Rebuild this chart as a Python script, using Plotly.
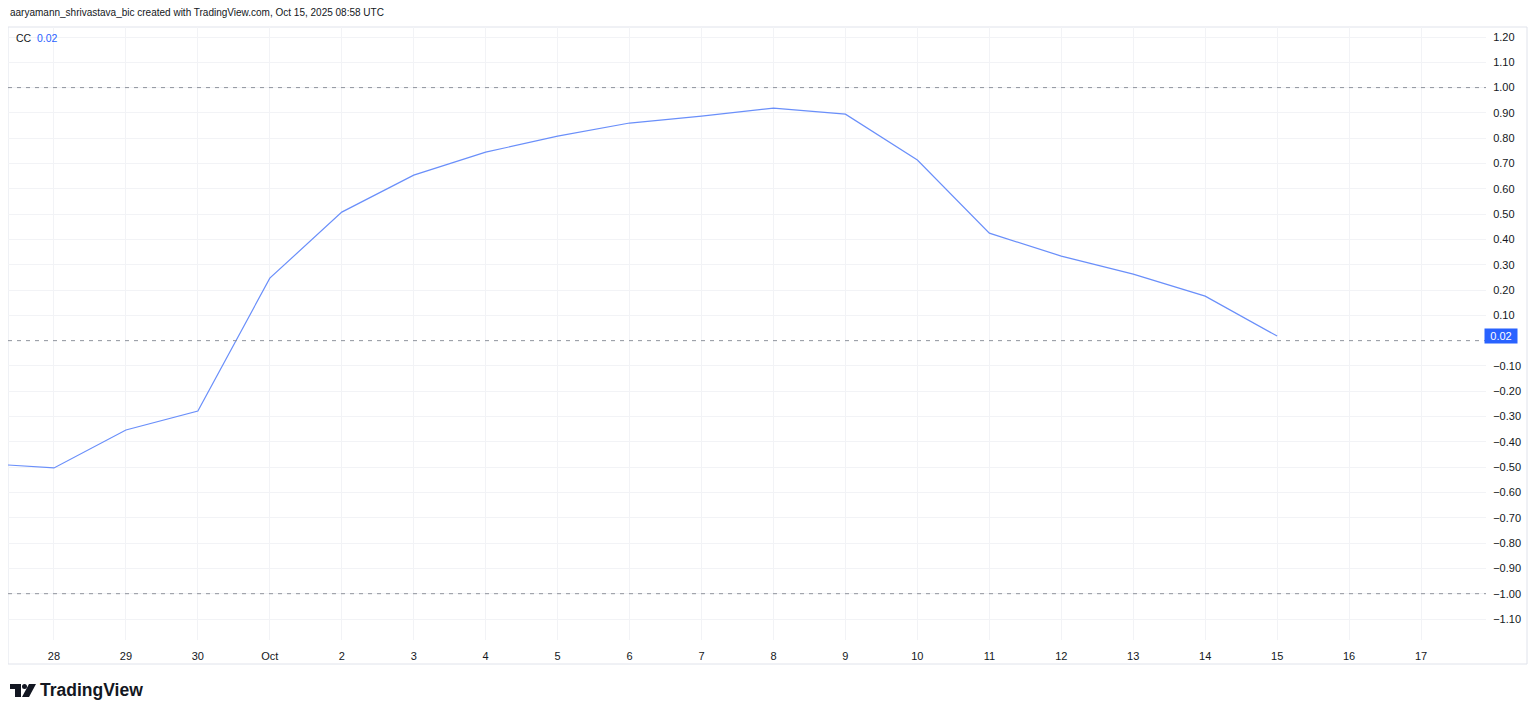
import plotly.graph_objects as go

dates = ["2025-09-27", "2025-09-28", "2025-09-29", "2025-09-30", "2025-10-01", "2025-10-02",
         "2025-10-03", "2025-10-04", "2025-10-05", "2025-10-06", "2025-10-07", "2025-10-08",
         "2025-10-09", "2025-10-10", "2025-10-11", "2025-10-12", "2025-10-13", "2025-10-14",
         "2025-10-15"]
cc = [-0.485, -0.503, -0.353, -0.278, 0.247, 0.508, 0.654, 0.745, 0.808, 0.860, 0.887, 0.919,
      0.895, 0.714, 0.425, 0.334, 0.263, 0.176, 0.018]

tick_dates = ["2025-09-28", "2025-09-29", "2025-09-30", "2025-10-01", "2025-10-02", "2025-10-03",
              "2025-10-04", "2025-10-05", "2025-10-06", "2025-10-07", "2025-10-08", "2025-10-09",
              "2025-10-10", "2025-10-11", "2025-10-12", "2025-10-13", "2025-10-14", "2025-10-15",
              "2025-10-16", "2025-10-17"]
tick_text = ["28", "29", "30", "Oct", "2", "3", "4", "5", "6", "7", "8", "9", "10", "11", "12",
             "13", "14", "15", "16", "17"]
y_ticks = [-1.1, -1.0, -0.9, -0.8, -0.7, -0.6, -0.5, -0.4, -0.3, -0.2, -0.1,
           0.1, 0.2, 0.3, 0.4, 0.5, 0.6, 0.7, 0.8, 0.9, 1.0, 1.1, 1.2]
level_lines = [1.0, 0.0, -1.0]
last_label = "0.02"

FONT = "Liberation Sans, DejaVu Sans, sans-serif"
TXT = "#131722"
LINE = "#6a8ffa"

# page-pixel -> paper helpers (plot area: page x 8..1486, y 27..640)
def px(x):
    return (x - 8) / 1478

def py(y):
    return (640 - y) / 613

fig = go.Figure()
fig.add_trace(go.Scatter(x=dates, y=cc, mode="lines",
                         line=dict(color=LINE, width=1.2), hoverinfo="skip"))

for lv in level_lines:
    fig.add_shape(type="line", xref="paper", x0=0, x1=1, yref="y", y0=lv, y1=lv,
                  line=dict(color="#8f939c", width=1, dash="4px,5px"), layer="above")

# outer frame
fig.add_shape(type="rect", xref="paper", yref="paper", x0=0, x1=px(1527),
              y0=py(664), y1=1, line=dict(color="#e0e3eb", width=1), layer="below")

fig.add_annotation(xref="paper", yref="y", x=1, y=cc[-1], text=last_label, showarrow=False,
                   xanchor="left", xshift=-2, bgcolor="#2962ff", borderpad=1,
                   font=dict(color="white", size=11, family=FONT),
                   width=30, height=12, align="center")

fig.add_annotation(xref="paper", yref="paper", x=0, y=1, xanchor="left", yanchor="top",
                   xshift=6, yshift=-3, showarrow=False,
                   text="CC&nbsp; <span style='color:#2962ff'>0.02</span>",
                   font=dict(color=TXT, size=10.5, family=FONT))

fig.add_annotation(xref="paper", yref="paper", x=0, y=1, xanchor="left", yanchor="bottom",
                   xshift=0, yshift=7, showarrow=False,
                   text="aaryamann_shrivastava_bic created with TradingView.com, Oct 15, 2025 08:58 UTC",
                   font=dict(color=TXT, size=10, family=FONT))

# TradingView logo
fig.add_annotation(xref="paper", yref="paper", x=px(38), y=py(690), xanchor="left",
                   yanchor="middle", showarrow=False,
                   text="<b>TradingView</b>", font=dict(color=TXT, size=17.5, family=FONT))
t_path = (f"M {px(10)} {py(684)} L {px(21)} {py(684)} L {px(21)} {py(697)} L {px(15)} {py(697)} "
          f"L {px(15)} {py(689)} L {px(10)} {py(689)} Z")
slash = (f"M {px(29)} {py(684)} L {px(36)} {py(684)} L {px(29)} {py(697)} L {px(22)} {py(697)} Z")
fig.add_shape(type="path", xref="paper", yref="paper", path=t_path,
              fillcolor=TXT, line=dict(width=0))
fig.add_shape(type="path", xref="paper", yref="paper", path=slash,
              fillcolor=TXT, line=dict(width=0))
fig.add_shape(type="circle", xref="paper", yref="paper", x0=px(22), x1=px(27),
              y0=py(689), y1=py(684), fillcolor=TXT, line=dict(width=0))

fig.update_layout(
    width=1528, height=707,
    margin=dict(l=0, r=50, t=19, b=75),
    paper_bgcolor="white", plot_bgcolor="white",
    showlegend=False,
    font=dict(family=FONT, size=11, color=TXT),
    xaxis=dict(type="date", range=["2025-09-27 08:40", "2025-10-17 21:40"],
               tickvals=tick_dates, ticktext=tick_text, showgrid=True, gridcolor="#f2f3f6",
               gridwidth=1, zeroline=False, showline=False, ticks="outside", ticklen=6,
               tickcolor="rgba(0,0,0,0)", tickfont=dict(size=11, color=TXT)),
    yaxis=dict(side="right", range=[-1.183, 1.2395], tickvals=y_ticks, tickformat=".2f",
               showgrid=True, gridcolor="#f2f3f6", gridwidth=1, zeroline=False, showline=False,
               ticks="outside", ticklen=4, tickcolor="rgba(0,0,0,0)",
               tickfont=dict(size=11, color=TXT)),
)

fig.write_html("out.html")
